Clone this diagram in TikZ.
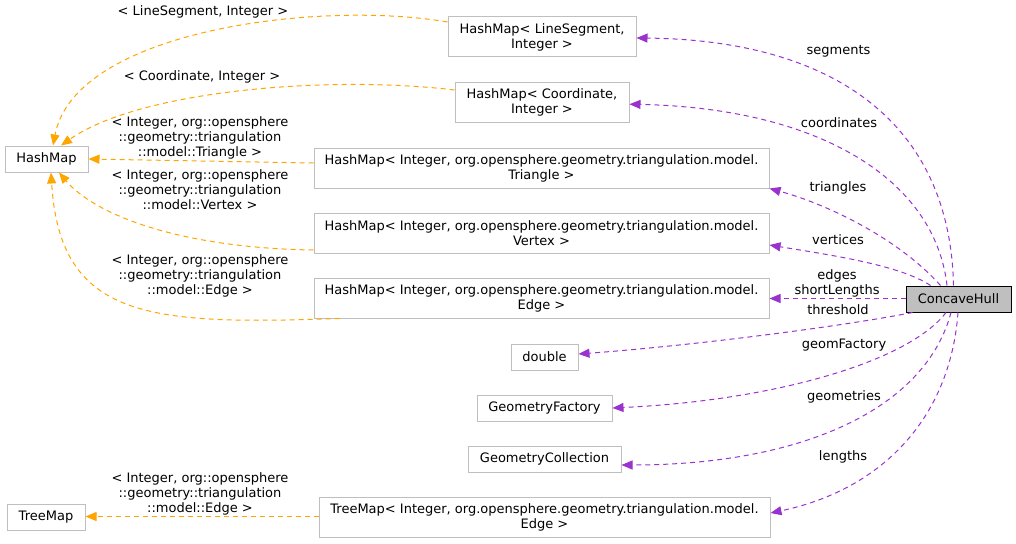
\documentclass[tikz,border=0pt]{standalone}
\usepackage{fontspec}
\setmainfont{DejaVu Sans}
\usetikzlibrary{arrows.meta}
\definecolor{porange}{HTML}{FFA500}
\definecolor{ppurple}{HTML}{9A32CD}
\definecolor{pgrey}{HTML}{BFBFBF}
\begin{document}
\begin{tikzpicture}[x=1pt,y=-1pt,
  every node/.style={font=\fontsize{13}{15}\selectfont, inner sep=0pt},
  cbox/.style={draw=pgrey, fill=white, line width=1pt, align=center},
  mainbox/.style={draw=black, fill=pgrey, line width=1pt, align=center},
  lbl/.style={align=center},
  pedge/.style={draw=ppurple, line width=1pt, dash pattern=on 5pt off 4pt, -{Triangle[length=11pt,width=9pt]}},
  oedge/.style={draw=porange, line width=1pt, dash pattern=on 5pt off 4pt, -{Triangle[length=11pt,width=9pt]}}
]
\useasboundingbox (0,0) rectangle (1016,543);
% nodes
\node[cbox, minimum width=83pt, minimum height=26pt] (hm) at (46.5,159) {HashMap};
\node[cbox, minimum width=188pt, minimum height=40pt] (ls) at (542,37) {HashMap< LineSegment,\\Integer >};
\node[cbox, minimum width=174pt, minimum height=40pt] (co) at (542,102.5) {HashMap< Coordinate,\\Integer >};
\node[cbox, minimum width=455pt, minimum height=40pt] (tri) at (541.5,168) {HashMap< Integer, org.opensphere.geometry.triangulation.model.\\Triangle >};
\node[cbox, minimum width=455pt, minimum height=40pt] (ver) at (541.5,233) {HashMap< Integer, org.opensphere.geometry.triangulation.model.\\Vertex >};
\node[cbox, minimum width=455pt, minimum height=40pt] (ed) at (541.5,298) {HashMap< Integer, org.opensphere.geometry.triangulation.model.\\Edge >};
\node[mainbox, minimum width=105pt, minimum height=26pt] (ch) at (958.5,299) {ConcaveHull};
\node[cbox, minimum width=67pt, minimum height=26pt] (dbl) at (544.5,357) {double};
\node[cbox, minimum width=135pt, minimum height=26pt] (gf) at (544.5,408) {GeometryFactory};
\node[cbox, minimum width=153pt, minimum height=26pt] (gc) at (544.5,459) {GeometryCollection};
\node[cbox, minimum width=451pt, minimum height=40pt] (tme) at (544.5,517) {TreeMap< Integer, org.opensphere.geometry.triangulation.model.\\Edge >};
\node[cbox, minimum width=78pt, minimum height=26pt] (tm) at (46,517) {TreeMap};
% purple edges
\draw[pedge] ([xshift=-5pt]ch.north) .. controls (950,120) and (830,40) .. (ls);
\draw[pedge] ([xshift=-11.5pt]ch.north) .. controls (935,180) and (820,108) .. (co);
\draw[pedge] ([xshift=-18pt]ch.north) .. controls (900,240) and (830,205) .. (tri.south east);
\draw[pedge] ([xshift=-28pt]ch.north) .. controls (900,265) and (830,255) .. ([yshift=-12pt]ver.east);
\draw[pedge] ([yshift=0.5pt]ch.west) -- ([yshift=0.5pt]ch.west -| ed.east);
\draw[pedge] ([xshift=-46pt]ch.south) .. controls (850,325) and (700,345) .. ([yshift=3pt]dbl.east);
\draw[pedge] ([xshift=-12.5pt]ch.south) .. controls (910,360) and (780,400) .. (gf.east);
\draw[pedge] ([xshift=-7.5pt]ch.south) .. controls (925,410) and (800,465) .. ([yshift=-6pt]gc.east);
\draw[pedge] ([xshift=-0.5pt]ch.south) .. controls (950,420) and (880,490) .. ([yshift=4pt]tme.east);
% orange edges
\draw[oedge] ([yshift=15pt]ls.west) .. controls (320,0) and (75,30) .. ([xshift=6.5pt]hm.north);
\draw[oedge] ([yshift=12.5pt]co.west) .. controls (330,75) and (140,90) .. ([xshift=14.5pt]hm.north);
\draw[oedge] ([yshift=5pt]tri.west) -- (hm.east);
\draw[oedge] ([yshift=-17pt]ver.west) .. controls (180,248) and (95,215) .. ([xshift=12.5pt]hm.south);
\draw[oedge] ([xshift=26pt]ed.south west) .. controls (150,325) and (60,320) .. ([xshift=4.5pt]hm.south);
\draw[oedge] ([yshift=0.5pt]tme.west) -- ([yshift=0.5pt]tm.east);
% left labels
\node[lbl] (l1) at (203,12) {< LineSegment, Integer >};
\node[lbl] (l2) at (202,77) {< Coordinate, Integer >};
\node[lbl] (l3) at (200,138) {< Integer, org::opensphere\\::geometry::triangulation\\::model::Triangle >};
\node[lbl] (l4) at (200,190) {< Integer, org::opensphere\\::geometry::triangulation\\::model::Vertex >};
\node[lbl] (l5) at (200,275.5) {< Integer, org::opensphere\\::geometry::triangulation\\::model::Edge >};
\node[lbl] (l6) at (200,494) {< Integer, org::opensphere\\::geometry::triangulation\\::model::Edge >};
% right labels
\node[lbl] (r1) at (838.5,51) {segments};
\node[lbl] (r2) at (839,123) {coordinates};
\node[lbl] (r3) at (838,188) {triangles};
\node[lbl] (r4) at (838,240) {vertices};
\node[lbl] (r5) at (837,283) {edges\\shortLengths};
\node[lbl] (r6) at (838,310) {threshold};
\node[lbl] (r7) at (844,345) {geomFactory};
\node[lbl] (r8) at (844,397) {geometries};
\node[lbl] (r9) at (843,457) {lengths};
\end{tikzpicture}
\end{document}
